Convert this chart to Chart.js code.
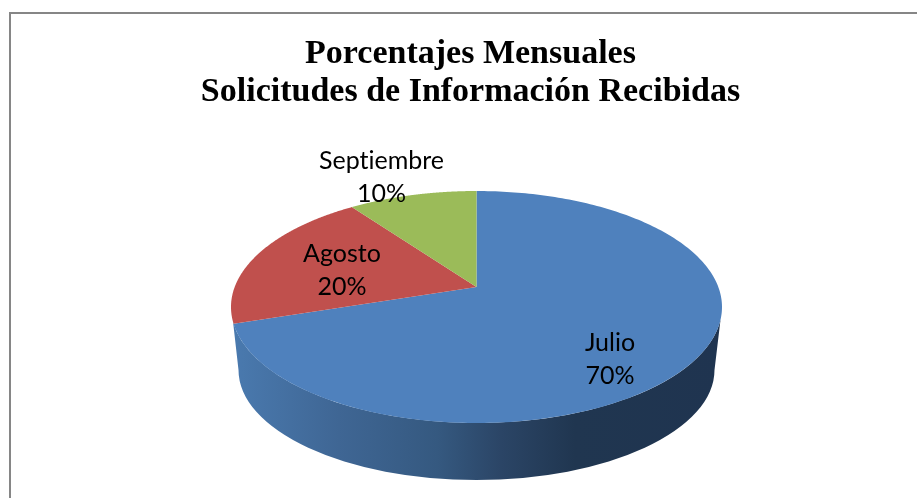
<!DOCTYPE html>
<html><head><meta charset="utf-8">
<script src="https://cdn.jsdelivr.net/npm/chart.js@4"></script>
<style>html,body{margin:0;padding:0;background:#fff;overflow:hidden}canvas{display:block}</style>
</head><body><canvas id="c" width="917" height="498"></canvas>
<script>
const categories = ['Julio', 'Agosto', 'Septiembre'];
const percentages = [70, 20, 10];
const sliceColors = ['#4f81bd', '#c0504d', '#9bbb59'];
const titleLines = ['Porcentajes Mensuales', 'Solicitudes de Información Recibidas'];

// drawing geometry of the tilted pie
const RADIUS = 245.5, SQUASH = 116 / 245.5, TILT = -0.172, OFFSET_X = 6;
const BASE = {dy: 63, rx: 238, ry: 110};
const labelSpots = [[610, 343], [342, 254], [381.5, 161]];

function mapAngle(a, e) {
  const u = Math.cos(a), v = Math.sin(a), d = 1 + TILT * v;
  return [e.x + OFFSET_X + e.outerRadius * u * Math.sqrt(1 - TILT * TILT) / d,
          e.y + e.outerRadius * SQUASH * (v + TILT) / d];
}
const tilted = {
  id: 'tilted',
  beforeDraw(chart) {
    const ctx = chart.ctx;
    ctx.save();
    ctx.fillStyle = '#fff';
    ctx.fillRect(0, 0, chart.width, chart.height);
    ctx.fillStyle = '#868686';
    ctx.fillRect(9, 12, chart.width - 9, 2);
    ctx.fillRect(9, 12, 2, chart.height - 12);
    ctx.restore();
  },
  beforeDatasetsDraw(chart) {
    const ctx = chart.ctx, arcs = chart.getDatasetMeta(0).data;
    const e0 = arcs[0], cx = e0.x + OFFSET_X, cy = e0.y, rx = e0.outerRadius, ry = rx * SQUASH;
    // side wall
    const g = ctx.createLinearGradient(cx - rx, 0, cx + rx, 0);
    g.addColorStop(0, '#4a7aaf');
    g.addColorStop(0.22, '#3f6694');
    g.addColorStop(0.42, '#355980');
    g.addColorStop(0.55, '#2b4566');
    g.addColorStop(0.70, '#203650');
    g.addColorStop(1, '#1f3450');
    ctx.save();
    ctx.beginPath();
    ctx.ellipse(cx, cy, rx, ry, 0, 0.11, Math.PI - 0.13, false);
    ctx.lineTo(cx - BASE.rx, cy + BASE.dy);
    ctx.ellipse(cx, cy + BASE.dy, BASE.rx, BASE.ry, 0, Math.PI, 0, true);
    ctx.closePath();
    ctx.fillStyle = g;
    ctx.fill();
    // top face
    arcs.forEach((e, i) => {
      const p = e.getProps(['startAngle', 'endAngle', 'x', 'y', 'outerRadius'], true);
      ctx.beginPath();
      ctx.moveTo(p.x + OFFSET_X, p.y + p.outerRadius * SQUASH * TILT);
      const n = 240;
      for (let k = 0; k <= n; k++) {
        const a = p.startAngle + (p.endAngle - p.startAngle) * k / n;
        const q = mapAngle(a, p);
        ctx.lineTo(q[0], q[1]);
      }
      ctx.closePath();
      ctx.fillStyle = e.options.backgroundColor;
      ctx.fill();
    });
    ctx.restore();
    return false;
  },
  afterDraw(chart) {
    const ctx = chart.ctx;
    ctx.save();
    ctx.font = '25px Lato';
    ctx.textRendering = 'optimizeSpeed';
    ctx.fillStyle = '#000';
    ctx.textAlign = 'center';
    ctx.textBaseline = 'middle';
    categories.forEach((c, i) => {
      const [x, y] = labelSpots[i];
      ctx.fillText(c, x, y);
      ctx.fillText(percentages[i] + '%', x, y + 33);
    });
    ctx.restore();
  }
};

new Chart(document.getElementById('c'), {
  type: 'pie',
  data: {labels: categories, datasets: [{data: percentages, backgroundColor: sliceColors, borderWidth: 0, radius: RADIUS}]},
  options: {
    responsive: false,
    animation: false,
    layout: {padding: {left: 24, top: 35}},
    plugins: {
      legend: {display: false},
      tooltip: {enabled: false},
      title: {display: true, text: titleLines, color: '#000', padding: {top: 0, bottom: 5},
              font: {family: 'Liberation Serif', size: 34, weight: 'bold', lineHeight: 1.118}}
    }
  },
  plugins: [tilted]
});
</script></body></html>
